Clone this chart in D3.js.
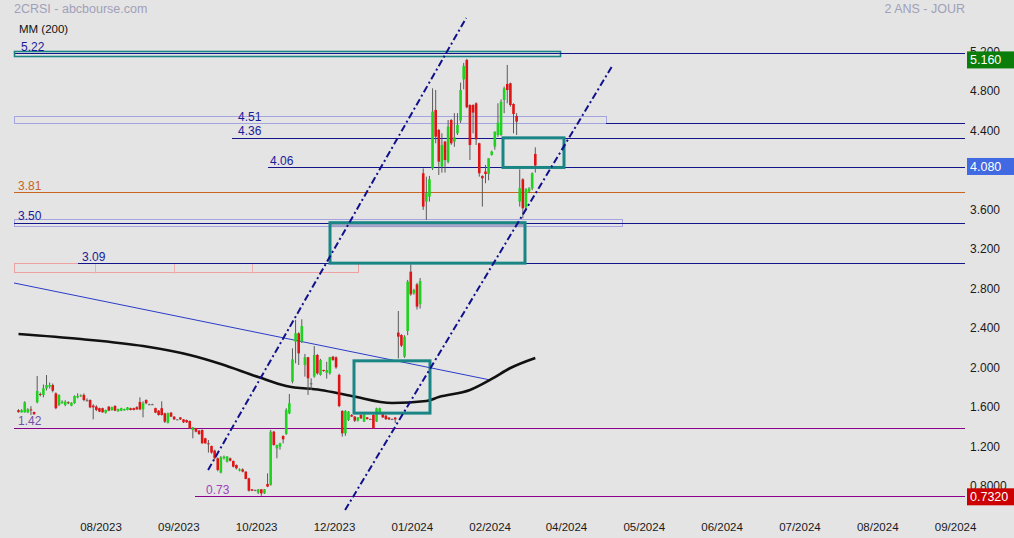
<!DOCTYPE html>
<html><head><meta charset="utf-8">
<script src="https://cdn.jsdelivr.net/npm/d3@7"></script>
<style>
body{margin:0;background:#e4e4e4;}
svg{display:block;font-family:"Liberation Sans",Arial,sans-serif;}
</style>
</head><body>
<svg id="c" width="1014" height="538"></svg>
<script>
// ---------- DATA ----------
const openP = [1.60,1.578,1.578,1.578,1.608,1.581,1.68,1.764,1.754,1.821,1.838,1.855,1.77,1.652,1.67,1.652,1.68,1.646,1.67,1.73,
1.74,1.754,1.70,1.703,1.646,1.636,1.62,1.62,1.575,1.636,1.60,1.643,1.588,1.595,1.598,1.602,1.62,1.62,1.63,1.683,
1.608,1.703,1.66,1.66,1.62,1.595,1.62,1.568,1.473,1.575,1.534,1.507,1.527,1.507,1.50,1.49,1.399,1.416,1.392,1.399,
1.315,1.264,1.237,1.19,1.112,0.967,1.112,1.078,1.112,1.085,1.044,0.987,1.0,0.977,0.909,0.798,0.79,0.764,0.798,0.757,
0.852,0.842,1.382,1.213,1.23,1.338,1.358,1.568,1.889,2.294,2.379,2.294,2.058,2.136,1.872,1.94,2.159,1.957,2.007,1.98,
1.973,2.142,2.136,1.957,1.592,1.365,1.50,1.55,1.535,1.494,1.551,1.484,1.527,1.51,1.551,1.484,1.568,1.558,1.544,1.524,
1.51,1.524,2.386,2.362,2.142,2.403,3.004,2.784,2.875,2.673,4.001,3.714,3.764,4.051,4.643,4.44,4.068,4.322,4.119,4.541,
4.322,4.406,4.535,4.953,5.15,4.693,4.693,4.71,4.305,3.974,4.018,3.994,4.187,4.271,4.389,4.389,4.744,4.906,4.913,4.703,
4.582,3.714,3.94,3.656,3.815,3.849,4.197];
const highP = [1.61,1.61,1.69,1.62,1.64,1.585,1.946,1.78,1.86,1.956,1.88,1.87,1.78,1.76,1.70,1.70,1.69,1.68,1.75,1.77,
1.76,1.77,1.72,1.71,1.66,1.65,1.625,1.625,1.605,1.64,1.635,1.65,1.615,1.625,1.615,1.632,1.625,1.625,1.64,1.73,
1.69,1.71,1.665,1.665,1.625,1.60,1.69,1.575,1.575,1.58,1.54,1.51,1.53,1.51,1.505,1.495,1.43,1.42,1.40,1.405,
1.32,1.298,1.24,1.20,1.12,1.135,1.14,1.135,1.12,1.09,1.05,1.01,1.01,0.98,0.915,0.80,0.795,0.80,0.80,0.80,
0.96,1.40,1.39,1.25,1.27,1.345,1.62,1.764,2.227,2.514,2.39,2.521,2.17,2.14,1.923,2.25,2.17,2.12,2.01,2.09,
2.14,2.15,2.145,1.97,1.60,1.60,1.59,1.56,1.54,1.53,1.56,1.56,1.53,1.515,1.56,1.625,1.625,1.565,1.55,1.53,
1.515,1.53,2.605,2.37,2.36,2.92,3.078,2.83,2.89,2.94,4.05,3.967,3.974,4.862,4.845,4.45,4.406,4.33,4.541,4.55,
4.61,4.61,4.92,5.12,5.16,4.70,4.70,4.72,4.31,3.98,4.085,4.153,4.23,4.423,4.71,4.75,4.88,5.099,4.92,4.71,
4.61,4.041,3.95,3.85,3.86,4.01,4.264];
const lowP = [1.575,1.575,1.575,1.57,1.55,1.555,1.67,1.74,1.73,1.80,1.82,1.78,1.61,1.64,1.665,1.64,1.66,1.64,1.665,1.72,
1.735,1.69,1.69,1.62,1.507,1.59,1.58,1.575,1.565,1.59,1.595,1.59,1.585,1.59,1.595,1.598,1.598,1.598,1.605,1.60,
1.527,1.66,1.655,1.655,1.57,1.545,1.545,1.47,1.465,1.53,1.50,1.505,1.50,1.47,1.47,1.41,1.315,1.375,1.35,1.26,
1.26,1.17,1.16,1.10,0.98,0.96,1.10,1.07,1.08,1.02,1.0,0.98,0.97,0.90,0.775,0.78,0.785,0.75,0.732,0.75,
0.82,0.835,1.24,1.112,1.20,1.264,1.35,1.56,1.872,2.075,2.058,2.28,1.94,1.754,1.805,1.93,1.96,1.95,1.99,1.92,
1.96,2.10,2.02,1.63,1.332,1.34,1.49,1.53,1.48,1.485,1.51,1.48,1.505,1.505,1.41,1.48,1.56,1.52,1.50,1.50,
1.505,1.47,2.125,2.24,2.13,2.36,2.76,2.77,2.62,2.63,3.63,3.528,3.714,4.034,4.305,3.984,4.008,4.008,4.102,4.29,
4.27,4.39,4.51,4.852,4.66,4.136,4.406,4.288,3.967,3.663,3.90,3.93,4.18,4.24,4.37,4.38,4.61,4.71,4.676,4.406,
4.389,3.663,3.545,3.64,3.80,3.83,4.008];
const closeP = [1.58,1.60,1.68,1.608,1.598,1.558,1.794,1.754,1.821,1.855,1.855,1.797,1.62,1.754,1.686,1.686,1.67,1.676,1.744,1.744,
1.75,1.703,1.70,1.628,1.628,1.602,1.585,1.578,1.602,1.595,1.63,1.595,1.612,1.62,1.612,1.628,1.602,1.602,1.608,1.608,
1.67,1.67,1.66,1.66,1.575,1.551,1.551,1.483,1.568,1.534,1.507,1.507,1.507,1.477,1.477,1.416,1.426,1.382,1.358,1.264,
1.264,1.26,1.17,1.112,0.994,1.122,1.129,1.129,1.088,1.027,1.01,1.0,0.977,0.903,0.784,0.784,0.79,0.798,0.757,0.798,
0.825,1.382,1.247,1.247,1.264,1.305,1.602,1.67,2.115,2.379,2.176,2.453,2.136,1.923,1.872,2.159,1.973,2.109,2.0,2.007,
2.136,2.109,2.034,1.642,1.365,1.592,1.585,1.535,1.494,1.527,1.517,1.558,1.51,1.51,1.416,1.619,1.619,1.527,1.51,1.507,
1.51,1.507,2.345,2.254,2.345,2.902,2.774,2.818,2.649,2.909,3.663,3.798,3.94,4.626,4.372,4.119,4.288,4.136,4.474,4.305,
4.365,4.491,4.845,5.088,4.67,4.288,4.616,4.345,4.001,3.95,3.994,4.153,4.221,4.423,4.514,4.727,4.862,4.845,4.693,4.602,
4.524,3.849,3.646,3.839,3.849,4.001,4.08];

// 200-day moving average (candle index, value)
const maIdx = [0,20,40,55,65,77,86,97,107,120,131,135,145,152,158,166];
const maVal = [2.372,2.321,2.25,2.159,2.068,1.936,1.845,1.804,1.744,1.673,1.693,1.733,1.804,1.916,2.027,2.129];

const xTickIdx = [26.5,51.5,76.5,101.5,126.5,151.5,176,201,226,251,276,301];
const xTickLabels = ["08/2023","09/2023","10/2023","12/2023","01/2024","02/2024","04/2024","05/2024","06/2024","07/2024","08/2024","09/2024"];
// 4.000 is hidden behind the 4.080 tag in the reference, so it is not listed
const yTickVals = [5.2,4.8,4.4,3.6,3.2,2.8,2.4,2.0,1.6,1.2,0.8];
const yTickLabels = ["5.200","4.800","4.400","3.600","3.200","2.800","2.400","2.000","1.600","1.200","0.8000"];

// price levels drawn on the chart
const levelVals   = [5.22, 4.51, 4.36, 4.06, 3.81, 3.50, 3.09, 1.42, 0.73];
const levelLabels = ["5.22","4.51","4.36","4.06","3.81","3.50","3.09","1.42","0.73"];
// tagged prices on the right axis
const tagVals   = [5.16, 4.08, 0.732];
const tagLabels = ["5.160","4.080","0.7320"];

// ---------- LAYOUT ----------
const svg = d3.select("#c");
const x = d3.scaleLinear().domain([0,166]).range([18.5,535.3]);
const y = d3.scaleLinear().domain([0.73,5.22]).range([496,53]);
const xL = x.invert(14), xR = x.invert(965);
const crisp = v => Math.round(v)+0.5;

const NAVY = "#14148a", TEAL = "#1a8585", LAV = "#a4a4e0", PURP = "#8b008b";

const levelCfg = [
  {start:xL,   color:NAVY, lx:21,  lc:"#1a1a9a"},
  {start:x.invert(606), color:NAVY, lx:238, lc:"#1a1a9a"},
  {start:x.invert(232), color:NAVY, lx:238, lc:"#1a1a9a"},
  {start:x.invert(268), color:NAVY, lx:270, lc:"#1a1a9a"},
  {start:xL,   color:"#c8641e", lx:18, lc:"#c8641e"},
  {start:xL,   color:NAVY, lx:18,  lc:"#1a1a9a"},
  {start:x.invert(78), color:NAVY, lx:82, lc:"#1a1a9a"},
  {start:xL,   color:PURP, lx:18,  lc:"#7050a8"},
  {start:x.invert(195), color:PURP, lx:206, lc:"#a040b8"}
];

// header
svg.append("text").attr("x",14).attr("y",13).attr("font-size",12.5).attr("fill","#a0a0b8").text("2CRSI - abcbourse.com");
svg.append("text").attr("x",965).attr("y",13).attr("text-anchor","end").attr("font-size",12.5).attr("fill","#a0a0b8").text("2 ANS - JOUR");
svg.append("text").attr("x",19).attr("y",33).attr("font-size",11.5).attr("fill","#111").text("MM (200)");

const g = svg.append("g");

const zoneRect = (i0,i1,v0,v1,stroke,fill) => g.append("rect")
  .attr("x",crisp(x(i0))).attr("y",crisp(y(v0))).attr("width",Math.round(x(i1)-x(i0))).attr("height",Math.round(y(v1)-y(v0)))
  .attr("fill",fill||"none").attr("stroke",stroke).attr("stroke-width",1);

zoneRect(xL, x.invert(606), 4.582, 4.51, LAV);
zoneRect(xL, x.invert(622), 3.537, 3.466, LAV);
zoneRect(xL, x.invert(358), 3.09, 2.995, "#f0a0a0");
[95,174,252].forEach(px=>{
  g.append("line").attr("x1",px+0.5).attr("x2",px+0.5).attr("y1",crisp(y(3.09))).attr("y2",crisp(y(2.995))).attr("stroke","#f0b0b0");
});

// level lines
levelVals.forEach((v,i)=>{
  const c = levelCfg[i];
  g.append("line").attr("x1",x(c.start)).attr("x2",x(xR)).attr("y1",crisp(y(v))).attr("y2",crisp(y(v)))
    .attr("stroke",c.color).attr("stroke-width",1);
});

// thin descending trend line
g.append("line").attr("x1",x(xL)).attr("y1",y(2.889)).attr("x2",x(151.5)).attr("y2",y(1.906))
  .attr("stroke","#2a3cc8").attr("stroke-width",1);

// moving average
const ma = maIdx.map((d,i)=>[d,maVal[i]]);
g.append("path").datum(ma).attr("fill","none").attr("stroke","#111").attr("stroke-width",2.6)
  .attr("d",d3.line().x(d=>x(d[0])).y(d=>y(d[1])).curve(d3.curveMonotoneX));

// candles
const candles = openP.map((o,i)=>({i,o,h:highP[i],l:lowP[i],c:closeP[i]}));
const cg = g.append("g");
cg.selectAll("line.w").data(candles).join("line").attr("class","w")
  .attr("x1",d=>x(d.i)).attr("x2",d=>x(d.i)).attr("y1",d=>y(d.h)).attr("y2",d=>y(d.l))
  .attr("stroke","#5a5a5a").attr("stroke-width",1);
cg.selectAll("rect.b").data(candles).join("rect").attr("class","b")
  .attr("x",d=>x(d.i)-1.3).attr("width",2.6)
  .attr("y",d=>y(Math.max(d.o,d.c)))
  .attr("height",d=>Math.max(1,Math.abs(y(d.o)-y(d.c))))
  .attr("fill",d=>d.c>d.o?"#1fd21f":(d.c<d.o?"#e01414":"#666"));

// box B top band fill
g.append("rect").attr("x",x(x.invert(330))).attr("width",x(x.invert(525))-x(x.invert(330)))
  .attr("y",y(3.50)).attr("height",y(3.455)-y(3.50)).attr("fill","#9c9cc4").attr("opacity",0.85);

// teal 5.22 thin box
zoneRect(xL, x.invert(560), 5.238, 5.188, TEAL).attr("stroke-width",1.6);
g.append("line").attr("x1",x(x.invert(560))).attr("x2",x(xR)).attr("y1",crisp(y(5.22))).attr("y2",crisp(y(5.22))).attr("stroke",NAVY).attr("stroke-width",1);

// teal boxes
const boxes = [[x.invert(354),x.invert(430),2.10,1.57],[x.invert(330),x.invert(525),3.50,3.09],[x.invert(503),x.invert(564),4.36,4.06]];
boxes.forEach(b=>{
  g.append("rect").attr("x",x(b[0])).attr("y",y(b[2])).attr("width",x(b[1])-x(b[0])).attr("height",y(b[3])-y(b[2]))
    .attr("fill","none").attr("stroke",TEAL).attr("stroke-width",3);
});

// dash-dot channel lines
const chan = [[60.9,0.994,143.8,5.575],[104.9,0.588,190.7,5.088]];
chan.forEach(c=>{
  g.append("line").attr("x1",x(c[0])).attr("y1",y(c[1])).attr("x2",x(c[2])).attr("y2",y(c[3]))
    .attr("stroke","#10108c").attr("stroke-width",2).attr("stroke-dasharray","7,3,2,3");
});

// level labels
levelVals.forEach((v,i)=>{
  const c = levelCfg[i];
  svg.append("text").attr("x",c.lx).attr("y",y(v)-2.5).attr("font-size",12).attr("fill",c.lc).text(levelLabels[i]);
});

// y axis tick labels
yTickVals.forEach((v,i)=>{
  svg.append("text").attr("x",970).attr("y",y(v)+1).attr("font-size",12).attr("fill","#1a1a1a").text(yTickLabels[i]);
});
// x axis tick labels
xTickIdx.forEach((t,i)=>{
  svg.append("text").attr("x",x(t)).attr("y",531).attr("text-anchor","middle").attr("font-size",11.5).attr("fill","#1a1a1a").text(xTickLabels[i]);
});

// tagged price boxes
const tagCol = ["#0a7d0a","#4169e1","#cc0000"];
tagVals.forEach((v,i)=>{
  svg.append("rect").attr("x",967).attr("y",y(v)-7.5).attr("width",47).attr("height",17).attr("fill",tagCol[i]);
  svg.append("text").attr("x",970).attr("y",y(v)+5.5).attr("font-size",12.5).attr("fill","#fff").text(tagLabels[i]);
});
</script>
</body></html>
